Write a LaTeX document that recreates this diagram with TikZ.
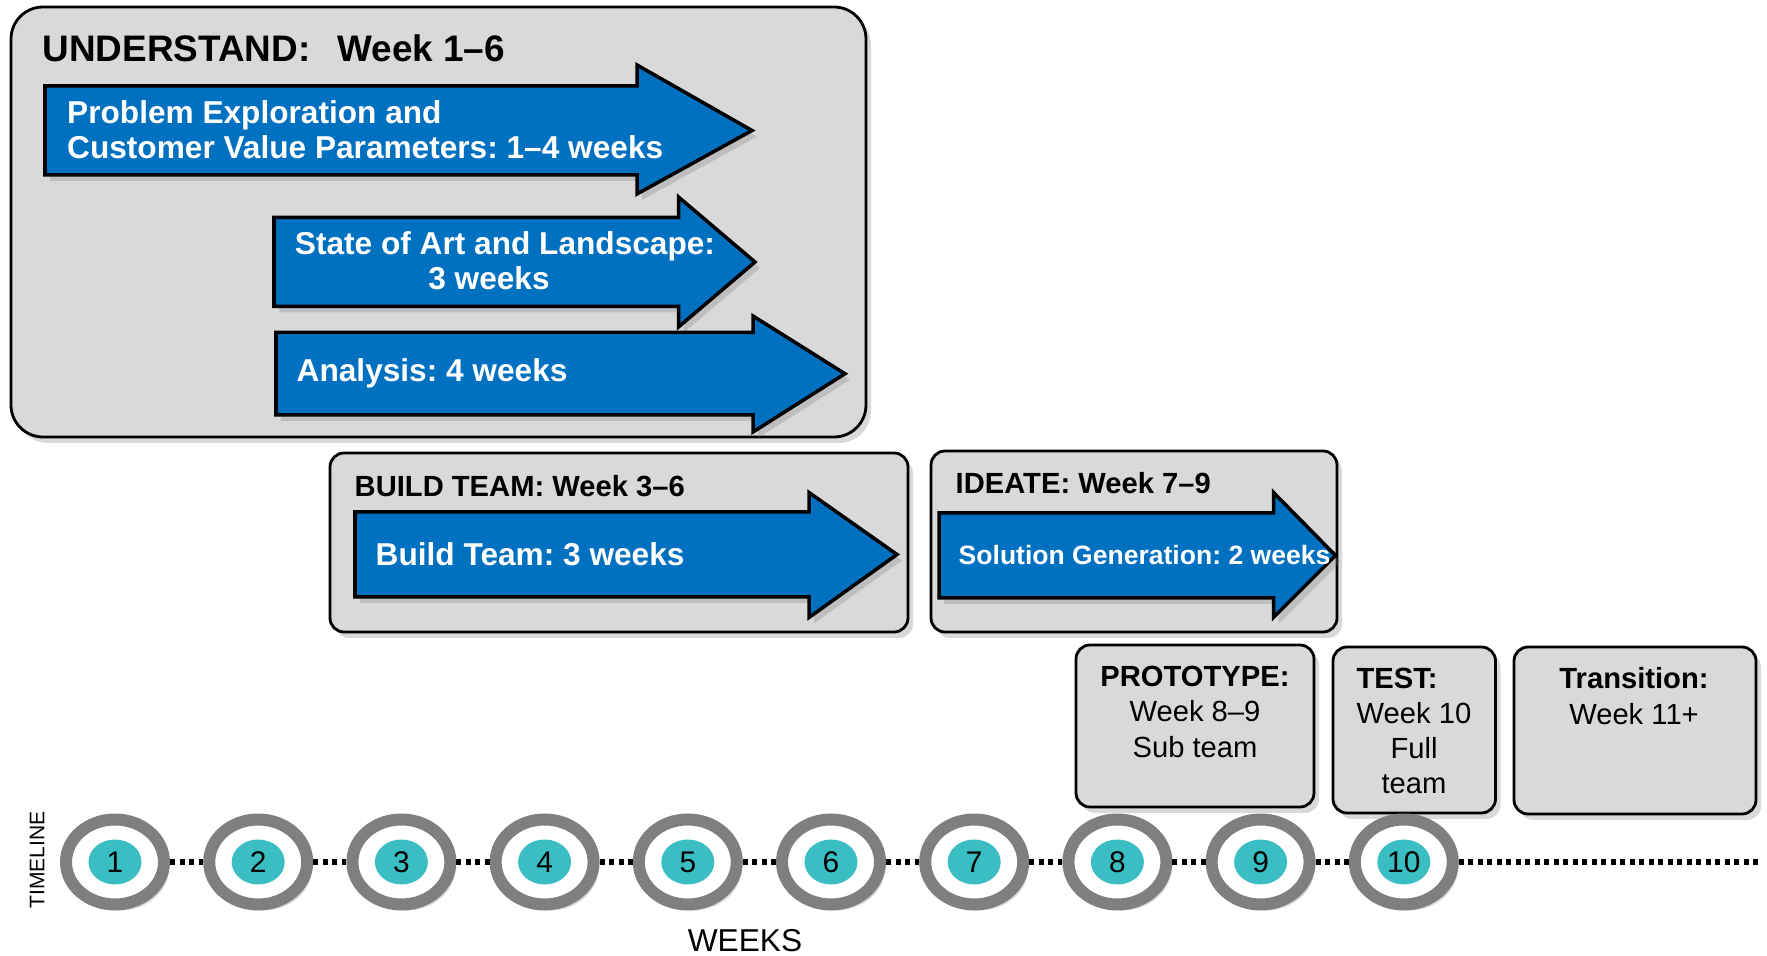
\documentclass[tikz,border=0pt]{standalone}
\usepackage{fontspec}
\setmainfont{Liberation Sans}
\frenchspacing
\usetikzlibrary{shapes.geometric, shadows}
\definecolor{ideablue}{HTML}{0070C0}
\definecolor{boxgray}{HTML}{D9D9D9}
\definecolor{ringgray}{HTML}{7F7F7F}
\definecolor{weekteal}{HTML}{3BBEC3}
\tikzstyle{softshadow} = [drop shadow={shadow xshift=0.05cm, shadow yshift=-0.06cm, opacity=0.3}]
\tikzstyle{phasebox} = [draw, line width=0.8pt, fill=boxgray, rounded corners=0.14cm, softshadow]
\tikzstyle{bigbox} = [phasebox, rounded corners=0.32cm]
\tikzstyle{blockarrow} = [draw, line width=1pt, fill=ideablue, softshadow]
\tikzstyle{arrowtext} = [text=white, inner sep=0pt, font=\bfseries\fontsize{9}{10}\selectfont]
\tikzstyle{titletext} = [inner sep=0pt, font=\bfseries\fontsize{8.3}{10}\selectfont]
\tikzstyle{cardtext} = [inner sep=0pt, align=center, font=\fontsize{8.3}{10.1}\selectfont]
\tikzstyle{ring} = [ellipse, draw=ringgray, line width=0.12cm, fill=white, minimum width=0.98cm, minimum height=0.85cm, softshadow]
\tikzstyle{weekdot} = [ellipse, fill=weekteal, inner sep=0pt, minimum width=0.53cm, minimum height=0.45cm, font=\fontsize{8.5}{9}\selectfont]
\tikzstyle{tldots} = [line width=0.055cm, dash pattern=on 0.05cm off 0.045cm]
% shaft left, shaft right, tip, shaft bottom, shaft top, head bottom, head top
\newcommand{\wkarrow}[7]{%
  \draw[blockarrow] (#1,#4) -- (#2,#4) -- (#2,#6) -- (#3,{(#4+#5)/2}) -- (#2,#7) -- (#2,#5) -- (#1,#5) -- cycle;}

\begin{document}
\begin{tikzpicture}
	\useasboundingbox (0,0) rectangle (17.67,9.56);

	% understand
	\draw[bigbox] (0.11,5.19) rectangle (8.66,9.49);
	\node [inner sep=0pt, anchor=west, font=\bfseries\fontsize{10.5}{12}\selectfont] (understand) at (0.42,9.075) {UNDERSTAND:\hspace{0.45em} Week 1--6};
	\wkarrow{0.45}{6.37}{7.52}{7.81}{8.70}{7.62}{8.91}
	\wkarrow{2.74}{6.785}{7.55}{6.495}{7.385}{6.29}{7.59}
	\wkarrow{2.76}{7.53}{8.45}{5.41}{6.235}{5.24}{6.40}
	\node [arrowtext, anchor=west, align=left] (explore) at (0.665,8.265) {Problem Exploration and\\Customer Value Parameters: 1--4 weeks};
	\node [arrowtext, align=center] (landscape) at (5.05,6.95) {State of Art and Landscape:\\3 weeks\hspace*{0.32cm}};
	\node [arrowtext, anchor=west] (analysis) at (2.96,5.83) {Analysis: 4 weeks};

	% build team and ideate
	\draw[phasebox] (3.30,3.24) rectangle (9.08,5.03);
	\node [titletext, anchor=west] (buildtitle) at (3.54,4.70) {BUILD TEAM: Week 3--6};
	\wkarrow{3.55}{8.09}{8.97}{3.59}{4.44}{3.385}{4.635}
	\node [arrowtext, anchor=west] (buildteam) at (3.75,4.015) {Build Team: 3 weeks};

	\draw[phasebox] (9.31,3.24) rectangle (13.37,5.05);
	\node [titletext, anchor=west] (ideatetitle) at (9.55,4.725) {IDEATE: Week 7--9};
	\wkarrow{9.39}{12.735}{13.355}{3.58}{4.43}{3.385}{4.635}
	\node [arrowtext, anchor=west, font=\bfseries\fontsize{7.55}{9}\selectfont] (solution) at (9.58,4.005) {Solution Generation: 2 weeks};

	% prototype, test, transition
	\draw[phasebox] (10.76,1.49) rectangle (13.14,3.11);
	\node [cardtext] (prototype) at (11.95,2.445) {\textbf{PROTOTYPE:}\\Week 8--9\\Sub team};
	\draw[phasebox] (13.33,1.43) rectangle (14.955,3.09);
	\node [cardtext, font=\fontsize{8.3}{10}\selectfont] (test) at (14.14,2.25) {\makebox[1.15cm][l]{\textbf{TEST:}}\\Week 10\\Full\\team};
	\draw[phasebox] (15.14,1.42) rectangle (17.56,3.09);
	\node [cardtext] (transition) at (16.34,2.60) {\textbf{Transition:}\\Week 11+};

	% timeline
	\foreach \n in {1,...,10} {
		\node [ring] (ring\n) at ({1.15+1.432*(\n-1)},0.94) {};
		\node [weekdot] (week\n) at (ring\n) {\n};
	}
	\foreach \m [count=\n] in {2,...,10}
		\draw[tldots] (ring\n) -- (ring\m);
	\coordinate (tlend) at (17.60,0.94);
	\draw[tldots] (ring10) -- (tlend);

	\node [rotate=90, font=\fontsize{6}{7}\selectfont] (timeline) at (0.37,0.96) {TIMELINE};
	\node [font=\fontsize{9}{10}\selectfont] (weeks) at (7.45,0.15) {WEEKS};
\end{tikzpicture}
\end{document}
